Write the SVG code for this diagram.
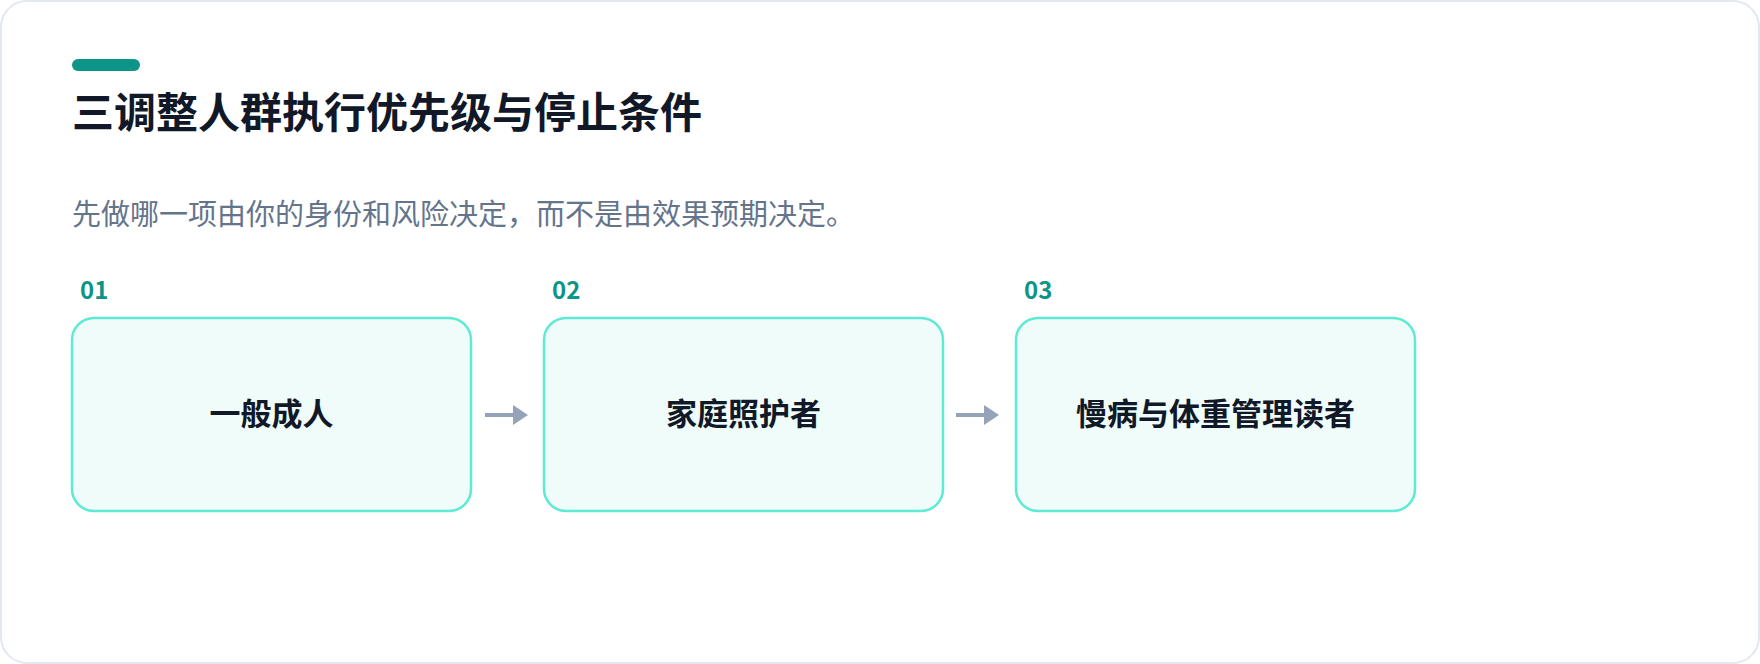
<svg xmlns="http://www.w3.org/2000/svg" width="1760" height="664" viewBox="0 0 1760 664">
<style>
text{font-family:"Noto Sans CJK SC","Noto Sans",sans-serif}
.box{fill:#effcf9;stroke:#5eead4;stroke-width:2.5}
.lbl{font-size:31px;font-weight:700;fill:#111827;text-anchor:middle}
.num{font-size:24px;font-weight:700;fill:#0d9488}
.conn{stroke:#94a3b8;stroke-width:4;fill:none}
</style>
<rect x="1" y="1" width="1758" height="662" rx="26" fill="#fff" stroke="#e2e8f0" stroke-width="2"/>
<rect x="72" y="59" width="68" height="12" rx="6" fill="#0d9488"/>
<text x="72" y="128" font-size="42" font-weight="700" fill="#111827">三调整人群执行优先级与停止条件</text>
<text x="72" y="225" font-size="29" fill="#64748b">先做哪一项由你的身份和风险决定，而不是由效果预期决定。</text>
<g id="connectors">
<path class="conn" d="M485 415 H518"/><path d="M513 405 L528 415 L513 425 z" fill="#94a3b8"/>
<path class="conn" d="M956 415 H989"/><path d="M984 405 L999 415 L984 425 z" fill="#94a3b8"/>
</g>
<g id="n1"><text class="num" x="80" y="299">01</text><rect class="box" x="72" y="318" width="399" height="193" rx="22"/><text class="lbl" x="271.5" y="425">一般成人</text></g>
<g id="n2"><text class="num" x="552" y="299">02</text><rect class="box" x="544" y="318" width="399" height="193" rx="22"/><text class="lbl" x="743.5" y="425">家庭照护者</text></g>
<g id="n3"><text class="num" x="1024" y="299">03</text><rect class="box" x="1016" y="318" width="399" height="193" rx="22"/><text class="lbl" x="1215.5" y="425">慢病与体重管理读者</text></g>
</svg>
